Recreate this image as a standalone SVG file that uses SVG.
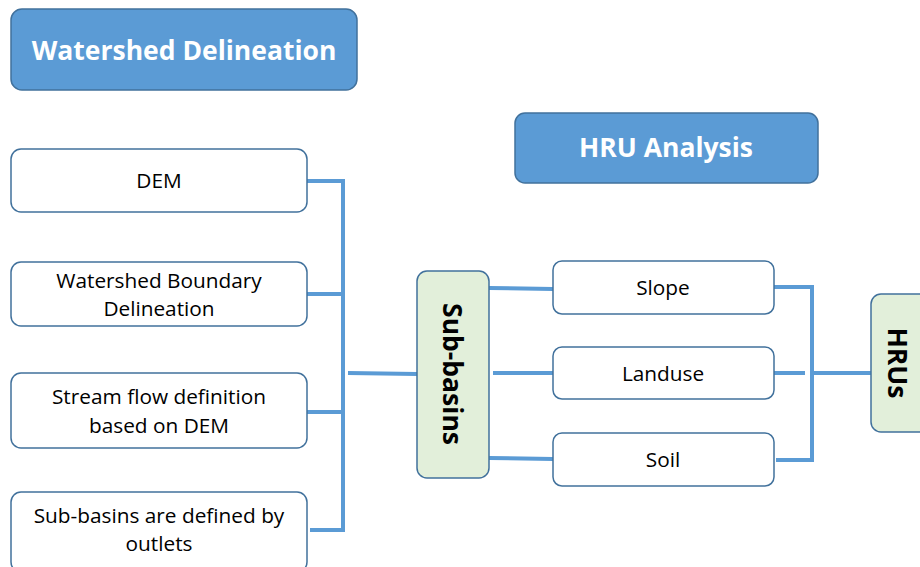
<svg xmlns="http://www.w3.org/2000/svg" width="920" height="567" viewBox="0 0 920 567">
<style>
.hdr{fill:#5B9BD5;stroke:#41719C;stroke-width:1.5}
.box{fill:#FFFFFF;stroke:#41719C;stroke-width:1.5}
.grn{fill:#E2EFDA;stroke:#41719C;stroke-width:1.5}
.ht{font-family:"Open Sans","Liberation Sans",sans-serif;font-weight:bold;font-size:26.5px;fill:#FFFFFF;text-anchor:middle}
.t{font-family:"Open Sans","Liberation Sans",sans-serif;font-size:20.8px;fill:#000000;text-anchor:middle}
.vt{font-family:"Open Sans","Liberation Sans",sans-serif;font-weight:bold;font-size:26.5px;fill:#000000;text-anchor:middle}
.c{fill:none;stroke:#5B9BD5;stroke-width:4}
</style>
<g id="connectors">
<polyline class="c" points="307,181 343,181 343,530 310,530"/>
<line class="c" x1="307" y1="294" x2="341" y2="294"/>
<line class="c" x1="307" y1="412" x2="341" y2="412"/>
<line class="c" x1="348" y1="373" x2="417" y2="374"/>
<line class="c" x1="489" y1="288" x2="553" y2="289"/>
<line class="c" x1="493" y1="373" x2="553" y2="373"/>
<line class="c" x1="489" y1="458" x2="553" y2="459"/>
<polyline class="c" points="774,287 812,287 812,460 776,460"/>
<line class="c" x1="774" y1="373" x2="805" y2="373"/>
<line class="c" x1="812" y1="373" x2="871" y2="373"/>
</g>
<g id="watershed-delineation">
<rect class="hdr" x="11" y="9" width="346" height="81" rx="11"/>
<text class="ht" x="184" y="60">Watershed Delineation</text>
</g>
<g id="hru-analysis">
<rect class="hdr" x="515" y="113" width="303" height="70" rx="10"/>
<text class="ht" x="666" y="157">HRU Analysis</text>
</g>
<g id="dem">
<rect class="box" x="11" y="149" width="296" height="63" rx="10"/>
<text class="t" x="159" y="188">DEM</text>
</g>
<g id="watershed-boundary">
<rect class="box" x="11" y="262" width="296" height="64" rx="10"/>
<text class="t" x="159" y="288">Watershed Boundary</text>
<text class="t" x="159" y="316">Delineation</text>
</g>
<g id="stream-flow">
<rect class="box" x="11" y="373" width="296" height="75" rx="10"/>
<text class="t" x="159" y="404">Stream flow definition</text>
<text class="t" x="159" y="433">based on DEM</text>
</g>
<g id="sub-basins-defined">
<rect class="box" x="11" y="492" width="296" height="80" rx="10"/>
<text class="t" x="159" y="523">Sub-basins are defined by</text>
<text class="t" x="159" y="551">outlets</text>
</g>
<g id="sub-basins">
<rect class="grn" x="417" y="271" width="72" height="207" rx="10"/>
<text class="vt" transform="translate(453,374) rotate(90)" y="10">Sub-basins</text>
</g>
<g id="slope">
<rect class="box" x="553" y="261" width="221" height="53" rx="9"/>
<text class="t" x="663" y="295">Slope</text>
</g>
<g id="landuse">
<rect class="box" x="553" y="347" width="221" height="52" rx="9"/>
<text class="t" x="663" y="381">Landuse</text>
</g>
<g id="soil">
<rect class="box" x="553" y="433" width="221" height="53" rx="9"/>
<text class="t" x="663" y="467">Soil</text>
</g>
<g id="hrus">
<rect class="grn" x="871" y="294" width="70" height="138" rx="10"/>
<text class="vt" transform="translate(899,363) rotate(90)" y="11">HRUs</text>
</g>
</svg>
